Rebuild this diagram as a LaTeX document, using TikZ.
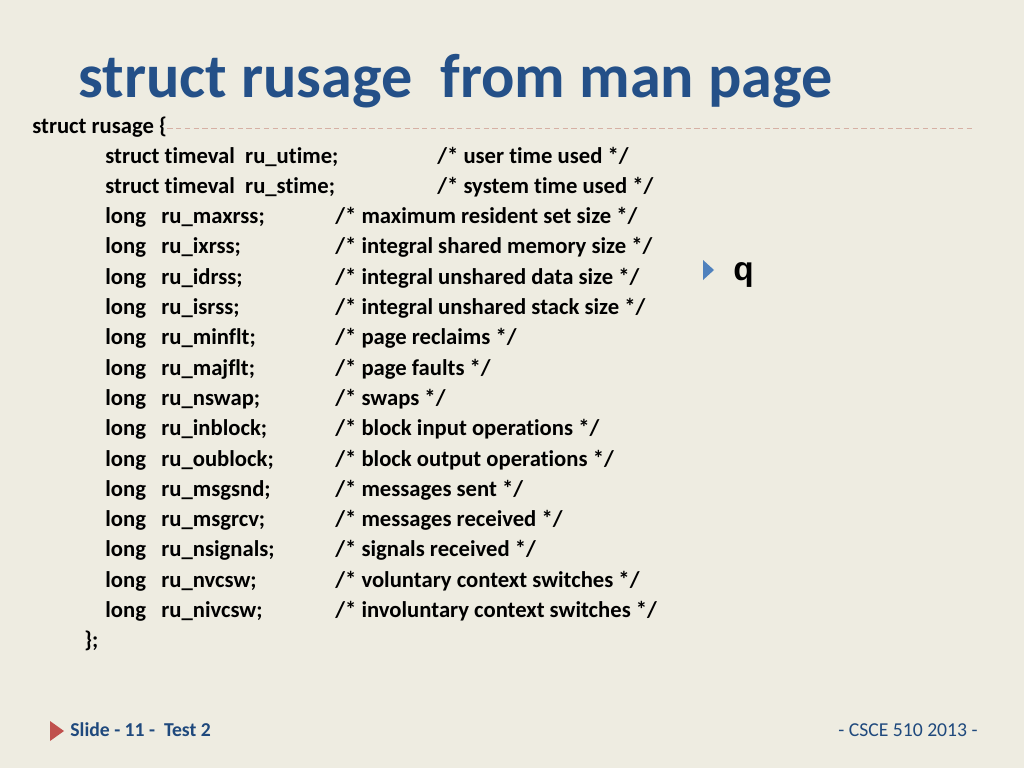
\documentclass[tikz,border=0pt]{standalone}
\usepackage{fontspec}
\setmainfont[Ligatures=NoCommon]{Carlito}
\newfontfamily\arialfont{Liberation Sans}
\usetikzlibrary{positioning}
\definecolor{slidebg}{RGB}{238,236,225}
\definecolor{titleblue}{RGB}{36,80,136}
\definecolor{footblue}{RGB}{31,73,125}
\definecolor{dashpink}{RGB}{214,176,164}
\definecolor{bulletblue}{RGB}{79,129,189}
\definecolor{footred}{RGB}{192,80,77}

\begin{document}
\begin{tikzpicture}[x=0.02cm, y=-0.02cm,
    txt/.style={anchor=base west, inner sep=0pt, font=\fontsize{12.9}{15}\selectfont\bfseries},
    foot/.style={anchor=base west, inner sep=0pt, text=footblue, font=\fontsize{11.2}{13}\selectfont}]

\fill[slidebg] (0,0) rectangle (1024,768);
\useasboundingbox (0,0) rectangle (1024,768);

\node[anchor=base west, inner sep=0pt, text=titleblue, font=\fontsize{35.4}{40}\selectfont\bfseries] (title) at (78,97) {struct rusage \ from man page};

\node[txt] (head) at (32,133) {struct rusage \{};
\coordinate (dashend) at (973,128);
\draw[dashpink, dashed, dash pattern=on 3pt off 2pt, line width=0.5pt] (head.east |- dashend) -- (dashend);

\node[txt] (utime) at (105,163) {struct timeval \ ru\_utime;};
\node[txt] (utimec) at (437,163) {/* user time used */};
\node[txt] (stime) at (105,193.3) {struct timeval \ ru\_stime;};
\node[txt] (stimec) at (437,193.3) {/* system time used */};

\node[txt] (l1) at (105,223.6) {long};
\node[txt] (n1) at (161,223.6) {ru\_maxrss;};
\node[txt] (c1) at (335,223.6) {/* maximum resident set size */};
\node[txt] (l2) at (105,253.9) {long};
\node[txt] (n2) at (161,253.9) {ru\_ixrss;};
\node[txt] (c2) at (335,253.9) {/* integral shared memory size */};
\node[txt] (l3) at (105,284.2) {long};
\node[txt] (n3) at (161,284.2) {ru\_idrss;};
\node[txt] (c3) at (335,284.2) {/* integral unshared data size */};
\node[txt] (l4) at (105,314.5) {long};
\node[txt] (n4) at (161,314.5) {ru\_isrss;};
\node[txt] (c4) at (335,314.5) {/* integral unshared stack size */};
\node[txt] (l5) at (105,344.8) {long};
\node[txt] (n5) at (161,344.8) {ru\_minflt;};
\node[txt] (c5) at (335,344.8) {/* page reclaims */};
\node[txt] (l6) at (105,375.1) {long};
\node[txt] (n6) at (161,375.1) {ru\_majflt;};
\node[txt] (c6) at (335,375.1) {/* page faults */};
\node[txt] (l7) at (105,405.4) {long};
\node[txt] (n7) at (161,405.4) {ru\_nswap;};
\node[txt] (c7) at (335,405.4) {/* swaps */};
\node[txt] (l8) at (105,435.7) {long};
\node[txt] (n8) at (161,435.7) {ru\_inblock;};
\node[txt] (c8) at (335,435.7) {/* block input operations */};
\node[txt] (l9) at (105,466) {long};
\node[txt] (n9) at (161,466) {ru\_oublock;};
\node[txt] (c9) at (335,466) {/* block output operations */};
\node[txt] (l10) at (105,496.3) {long};
\node[txt] (n10) at (161,496.3) {ru\_msgsnd;};
\node[txt] (c10) at (335,496.3) {/* messages sent */};
\node[txt] (l11) at (105,526.6) {long};
\node[txt] (n11) at (161,526.6) {ru\_msgrcv;};
\node[txt] (c11) at (335,526.6) {/* messages received */};
\node[txt] (l12) at (105,556.9) {long};
\node[txt] (n12) at (161,556.9) {ru\_nsignals;};
\node[txt] (c12) at (335,556.9) {/* signals received */};
\node[txt] (l13) at (105,587.2) {long};
\node[txt] (n13) at (161,587.2) {ru\_nvcsw;};
\node[txt] (c13) at (335,587.2) {/* voluntary context switches */};
\node[txt] (l14) at (105,617.5) {long};
\node[txt] (n14) at (161,617.5) {ru\_nivcsw;};
\node[txt] (c14) at (335,617.5) {/* involuntary context switches */};
\node[txt] (close) at (84,647.8) {\};};

\fill[bulletblue] (703,260) -- (714,270) -- (703,280) -- cycle;
\node[anchor=base west, inner sep=0pt, font=\arialfont\fontsize{19}{21}\selectfont\bfseries] (q) at (733,280) {q};

\fill[footred] (50,721) -- (64,731) -- (50,741) -- cycle;
\node[foot, font=\fontsize{11.2}{13}\selectfont\bfseries] (slide) at (70,736) {Slide - 11 - \ Test 2};
\node[foot, anchor=base east] (course) at (978,736) {- CSCE 510 2013 -};

\end{tikzpicture}
\end{document}
